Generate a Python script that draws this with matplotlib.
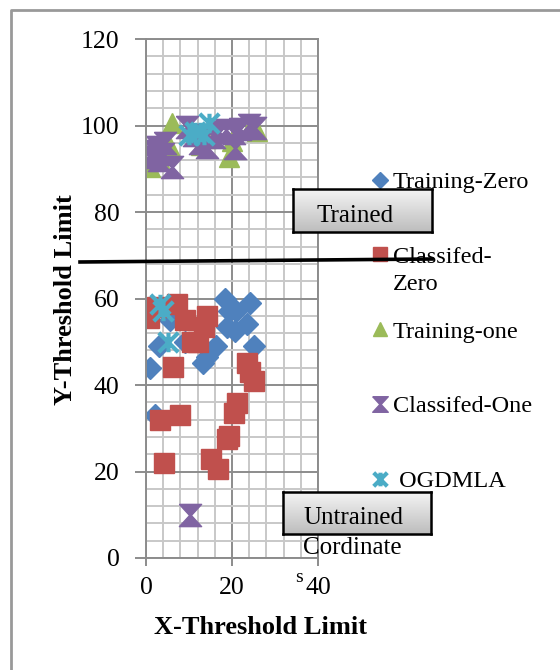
import numpy as np
import matplotlib
matplotlib.use('Agg')
import matplotlib.pyplot as plt
from matplotlib.lines import Line2D
from matplotlib.path import Path
from matplotlib.colors import LinearSegmentedColormap

plt.rcParams['font.family'] = ['Liberation Serif', 'DejaVu Serif']

# values
train_zero_x = [1.0, 2.0, 3.1, 5.5, 9.0, 13.2, 14.2, 16.2, 18.3, 18.8, 19.2, 20.6, 21.0, 23.6, 24.2, 25.2]
train_zero_y = [44, 33, 49, 55, 50, 45, 46.5, 49, 60, 53.5, 57, 52.6, 57, 54, 59, 49]

class_zero_x = [0.8, 2.5, 7.2, 9.0, 10.7, 12.2, 13.5, 14.2, 6.2, 3.2, 8.0, 4.1,
                15.2, 16.8, 18.8, 19.3, 20.4, 21.2, 23.4, 24.2, 25.1]
class_zero_y = [55.5, 58, 58.8, 55, 50, 50, 53.5, 56, 44.2, 32, 33, 22,
                23, 20.6, 27.5, 28.2, 33.5, 35.8, 45, 43, 41]

train_one_x = [1.0, 3.0, 6.0, 5.5, 12.8, 14.0, 19.3, 25.8, 24.5, 20.0]
train_one_y = [90.5, 92.5, 100.5, 95, 95.5, 97, 92.8, 98.8, 100, 96.5]

class_one_x = [1.0, 2.6, 4.5, 6.0, 3.0, 9.5, 11.1, 14.2, 15.7, 17.0, 20.8, 21.9,
               23.9, 25.3, 20.4, 10.2, 1.8, 4.0, 12.5, 18.5]
class_one_y = [92.8, 95, 95.9, 90.5, 92, 99.7, 97.8, 95.1, 97.4, 98.5, 94.7, 99.3,
               100.1, 99.4, 98.2, 10, 94, 93.5, 96, 99]

ogdmla_x = [3.2, 3.9, 5.2, 10.0, 11.5, 13.6, 14.6, 12.6]
ogdmla_y = [58.8, 57, 50, 97.8, 98.5, 97.8, 100.5, 98.6]

labels = ['Training-Zero', 'Classifed-', 'Training-one', 'Classifed-One', ' OGDMLA']
colors = ['#4F81BD', '#C0504D', '#9BBB59', '#8064A2', '#4BACC6']

# excel-like markers
hourglass = [(-1, 1), (1, 1), (0.08, 0), (1, -1), (-1, -1), (-0.08, 0), (-1, 1)]
star = Path([(-1, -1), (1, 1), (-1, 1), (1, -1), (0, -1), (0, 1)],
            [Path.MOVETO, Path.LINETO, Path.MOVETO, Path.LINETO, Path.MOVETO, Path.LINETO])

W, H = 560, 670
fig = plt.figure(figsize=(5.6, 6.7), dpi=100)
ax = fig.add_axes([146/W, 1-558/H, 172/W, 519/H])

h1, = ax.plot(train_zero_x, train_zero_y, 'D', color=colors[0], ms=11.5, mec=colors[0], linestyle='none')
h2, = ax.plot(class_zero_x, class_zero_y, 's', color=colors[1], ms=14.5, mec=colors[1], linestyle='none')
h3, = ax.plot(train_one_x, train_one_y, '^', color=colors[2], ms=14, mec=colors[2], linestyle='none')
h4, = ax.plot(class_one_x, class_one_y, marker=hourglass, color=colors[3], ms=16, mec=colors[3], linestyle='none')
h5, = ax.plot(ogdmla_x, ogdmla_y, marker=star, color=colors[4], ms=14, mfc='none', mec=colors[4], mew=3, linestyle='none')

ax.set_xlim(0, 40)
ax.set_ylim(0, 120)
ax.set_xticks([0, 20, 40])
ax.set_xticklabels(['0', '20', '40'])
ax.set_yticks(range(0, 121, 20))
ax.set_xticks(np.arange(0, 41, 4), minor=True)
ax.set_yticks(np.arange(0, 121, 4), minor=True)
ax.grid(which='minor', color='#c8c8c8', lw=1.4)
ax.grid(which='major', color='#8c8c8c', lw=1.4)
ax.set_axisbelow(True)
ax.tick_params(which='minor', length=0)
ax.tick_params(which='major', length=6, width=1.4, color='#8c8c8c', labelsize=18.5, pad=8)
ax.tick_params(axis='y', length=8, pad=11)
for s in ax.spines.values():
    s.set_color('#8c8c8c')
    s.set_linewidth(1.4)

ax.set_xlabel('X-Threshold Limit', fontsize=19, fontweight='bold')
ax.set_ylabel('Y-Threshold Limit', fontsize=19, fontweight='bold')
ax.xaxis.set_label_coords((260-146)/172, -(616-558)/519)
ax.yaxis.set_label_coords(-(146-77)/172, (558-300)/519)

# stray "s" next to the 40 label
fig.text(303/W, 1-577/H, 's', fontsize=14, ha='right', va='center')

leg = ax.legend([h1, h2, h3, h4, h5], labels, loc='upper left',
                bbox_to_anchor=(371/W, 1-171/H), bbox_transform=fig.transFigure,
                frameon=False, fontsize=17.5, markerscale=0.7, handlelength=0.7,
                handletextpad=0.2, labelspacing=2.17, borderpad=0, borderaxespad=0)
fig.text(393/W, 1-285/H, 'Zero', fontsize=17.5, ha='left', va='center')

# gradient boxes
cmap = LinearSegmentedColormap.from_list('g', ['#f4f4f4', '#bdbdbd'])
grad = np.linspace(0, 1, 64).reshape(-1, 1)
for (x0, y0, x1, y1), txt, tx, ty in [((293, 189, 432, 232), 'Trained', 355, 216),
                                      ((283, 492, 431, 534), 'Untrained', 353, 518)]:
    bx = fig.add_axes([x0/W, 1-y1/H, (x1-x0)/W, (y1-y0)/H])
    bx.imshow(grad, aspect='auto', cmap=cmap, extent=[0, 1, 0, 1])
    bx.set_xticks([])
    bx.set_yticks([])
    for s in bx.spines.values():
        s.set_linewidth(1.8)
        s.set_color('black')
    fig.text(tx/W, 1-ty/H, txt, fontsize=18, ha='center', va='center', zorder=10)
fig.text(303/W, 1-548/H, 'Cordinate', fontsize=18, ha='left', va='center')

fig.add_artist(Line2D([80/W, 432/W], [1-262/H, 1-259/H], color='black', lw=2.6))
fig.add_artist(Line2D([11/W, 11/W, 1.0], [0.0, 1-10/H, 1-10/H], color='#999999', lw=2))

fig.savefig('out.png', dpi=100)
